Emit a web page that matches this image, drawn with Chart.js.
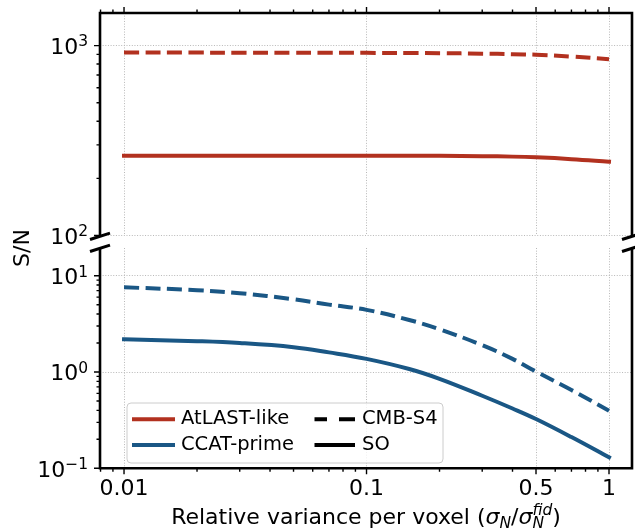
<!DOCTYPE html>
<html>
<head>
<meta charset="utf-8">
<title>S/N vs relative variance per voxel</title>
<script src="https://cdn.jsdelivr.net/npm/chart.js@4.4.1/dist/chart.umd.min.js"></script>
<style>
  html, body { margin: 0; padding: 0; background: #ffffff; }
  #figure { position: relative; width: 635px; height: 529px; overflow: hidden; }
  #figure canvas { position: absolute; left: 0; top: 0; }
</style>
</head>
<body>
<div id="figure">
  <canvas id="upper" width="635" height="529"></canvas>
  <canvas id="lower" width="635" height="529"></canvas>
</div>
<script>
// relative variance per voxel (x axis)
var variance = [0.01, 0.02, 0.03, 0.05, 0.07, 0.1, 0.15, 0.2, 0.3, 0.4, 0.5, 0.7, 1.0];
// AtLAST-like, upper panel
var atlastCmbS4 = [919, 919, 918.5, 918, 917.5, 916.4, 914.8, 913.1, 907.6, 902, 895.5, 876.2, 848];
var atlastSO = [263.4, 263.4, 263.4, 263.4, 263.3, 263.2, 263.0, 262.8, 261.8, 260.3, 258.0, 252.5, 244.8];
// CCAT-prime, lower panel
var ccatCmbS4 = [7.58, 7.07, 6.58, 5.69, 5.01, 4.42, 3.47, 2.78, 1.90, 1.37, 1.01, 0.65, 0.396];
var ccatSO = [2.19, 2.09, 2.0, 1.81, 1.60, 1.37, 1.075, 0.85, 0.567, 0.418, 0.325, 0.211, 0.13];

var xTicks = [0.01, 0.1, 0.5, 1];
var xTickLabels = ['0.01', '0.1', '0.5', '1'];
var upperDecades = [100, 1000];
var lowerDecades = [0.1, 1, 10];
var experiments = ['AtLAST-like', 'CCAT-prime'];
var surveys = ['CMB-S4', 'SO'];
var xTitle = 'Relative variance per voxel';
var yTitle = 'S/N';

var FONT = '"DejaVu Sans", sans-serif';
var RED = '#b2311f';
var BLUE = '#1a5785';
var GRID = '#b8b8b8';
var X_MIN = 0.00796, X_MAX = 1.244;
var PLOT_LEFT = 100, PLOT_RIGHT = 632;
var UPPER_TOP = 13, UPPER_BOTTOM = 235.5;
var LOWER_TOP = 248, LOWER_BOTTOM = 468.3;

Chart.defaults.font.family = FONT;
Chart.defaults.color = '#000';

function series(values) {
    "use strict";
    return values.map(function (v, i) {
        return {x: variance[i], y: v};
    });
}

function lineSet(label, values, color, dashed) {
    "use strict";
    return {
        label: label,
        data: series(values),
        borderColor: color,
        borderWidth: 4,
        borderDash: dashed ? [15, 6.5] : [],
        borderCapStyle: dashed ? 'butt' : 'square',
        pointRadius: 0,
        fill: false,
        tension: 0.4
    };
}

// every k * 10^n inside [min, max]
function logMarks(min, max, majors) {
    "use strict";
    var out = [];
    for (var e = Math.floor(Math.log10(min)); e <= Math.ceil(Math.log10(max)); e++) {
        for (var k = 1; k <= 9; k++) {
            var v = parseFloat((k * Math.pow(10, e)).toPrecision(6));
            if (v >= min * 0.999 && v <= max * 1.001) {
                out.push({value: v, major: majors.indexOf(v) !== -1});
            }
        }
    }
    return out;
}

function xScale(position, showLabels) {
    "use strict";
    return {
        type: 'logarithmic',
        position: position,
        min: X_MIN,
        max: X_MAX,
        afterBuildTicks: function (s) {
            s.ticks = xTicks.map(function (v) { return {value: v}; });
        },
        afterFit: function (s) {
            s.height = showLabels ? 529 - LOWER_BOTTOM : 0;
        },
        ticks: {
            display: showLabels,
            autoSkip: false,
            maxRotation: 0,
            padding: 8,
            font: {size: 22},
            callback: function (v, i) { return xTickLabels[i]; }
        },
        grid: {color: GRID, lineWidth: 1, drawTicks: false},
        border: {display: false, dash: [1, 1.65]}
    };
}

function yScale(min, max, decades) {
    "use strict";
    return {
        type: 'logarithmic',
        min: min,
        max: max,
        afterBuildTicks: function (s) {
            s.ticks = decades.map(function (v) { return {value: v}; });
        },
        afterFit: function (s) {
            s.width = PLOT_LEFT;
        },
        ticks: {display: false},
        grid: {color: GRID, lineWidth: 1, drawTicks: false},
        border: {display: false, dash: [1, 1.65]}
    };
}

// "10" with a raised exponent, right aligned at xRight
function drawPower(ctx, exp, xRight, y) {
    "use strict";
    var sup = exp < 0 ? '\u2212' + (-exp) : String(exp);
    ctx.textAlign = 'left';
    ctx.textBaseline = 'alphabetic';
    ctx.font = '15.5px ' + FONT;
    var ws = ctx.measureText(sup).width;
    ctx.fillText(sup, xRight - ws, y + 0.8);
    ctx.font = '22px ' + FONT;
    var wb = ctx.measureText('10').width;
    ctx.fillText('10', xRight - ws - wb, y + 8.3);
}

function drawXTitle(ctx, cx, baseline) {
    "use strict";
    var big = '22px ' + FONT, ibig = 'italic 22px ' + FONT, ismall = 'italic 15.5px ' + FONT;
    var runs = [
        {text: xTitle + ' (', font: big, dy: 0},
        {text: '\u03c3', font: ibig, dy: 0},
        {text: 'N', font: ismall, dy: 4},
        {text: '/', font: big, dy: 0},
        {text: '\u03c3', font: ibig, dy: 0},
        {text: 'N', font: ismall, dy: 4, keep: true},
        {text: 'fid', font: ismall, dy: -9},
        {text: ')', font: big, dy: 0}
    ];
    var x = 0, held = 0, starts = [];
    runs.forEach(function (r) {
        ctx.font = r.font;
        var w = ctx.measureText(r.text).width;
        starts.push(x);
        if (r.keep) {
            held = w;
        } else {
            x += Math.max(w, held);
            held = 0;
        }
    });
    var left = cx - x / 2;
    ctx.textAlign = 'left';
    ctx.textBaseline = 'alphabetic';
    runs.forEach(function (r, i) {
        ctx.font = r.font;
        ctx.fillText(r.text, left + starts[i], baseline + r.dy);
    });
}

function drawLegend(ctx) {
    "use strict";
    var bx = 127, by = 403, bw = 316, bh = 60, rr = 4;
    ctx.beginPath();
    ctx.moveTo(bx + rr, by);
    ctx.arcTo(bx + bw, by, bx + bw, by + bh, rr);
    ctx.arcTo(bx + bw, by + bh, bx, by + bh, rr);
    ctx.arcTo(bx, by + bh, bx, by, rr);
    ctx.arcTo(bx, by, bx + bw, by, rr);
    ctx.closePath();
    ctx.fillStyle = 'rgba(255,255,255,0.8)';
    ctx.fill();
    ctx.strokeStyle = '#cccccc';
    ctx.lineWidth = 1;
    ctx.setLineDash([]);
    ctx.stroke();

    var rows = [419.3, 445];
    var cols = [{x0: 132, x1: 175, tx: 181}, {x0: 314.5, x1: 355, tx: 362}];
    var entries = [
        {label: experiments[0], color: RED, dash: [], col: 0, row: 0},
        {label: experiments[1], color: BLUE, dash: [], col: 0, row: 1},
        {label: surveys[0], color: '#000', dash: [12.5, 12, 16, 12], col: 1, row: 0},
        {label: surveys[1], color: '#000', dash: [], col: 1, row: 1}
    ];
    ctx.font = '19.5px ' + FONT;
    ctx.textAlign = 'left';
    ctx.textBaseline = 'middle';
    entries.forEach(function (e) {
        var c = cols[e.col], y = rows[e.row];
        ctx.beginPath();
        ctx.setLineDash(e.dash);
        ctx.strokeStyle = e.color;
        ctx.lineWidth = 4;
        ctx.lineCap = 'butt';
        ctx.moveTo(c.x0, y);
        ctx.lineTo(c.x1, y);
        ctx.stroke();
        ctx.setLineDash([]);
        ctx.fillStyle = '#000';
        ctx.fillText(e.label, c.tx, y);
    });
}

function lowerExtras(chart) {
    "use strict";
    var ctx = chart.ctx, a = chart.chartArea;
    // axis break marks
    ctx.strokeStyle = '#000';
    ctx.lineWidth = 3;
    ctx.setLineDash([]);
    ctx.beginPath();
    [UPPER_BOTTOM + 0.8, LOWER_TOP + 0.3].forEach(function (y) {
        [PLOT_LEFT, PLOT_RIGHT].forEach(function (x) {
            ctx.moveTo(x - 10, y + 3.2);
            ctx.lineTo(x + 10, y - 3.2);
        });
    });
    ctx.stroke();

    // shared y title
    ctx.save();
    ctx.translate(28.5, 248);
    ctx.rotate(-Math.PI / 2);
    ctx.font = '22px ' + FONT;
    ctx.textAlign = 'center';
    ctx.textBaseline = 'alphabetic';
    ctx.fillStyle = '#000';
    ctx.fillText(yTitle, 0, 0);
    ctx.restore();

    ctx.fillStyle = '#000';
    drawXTitle(ctx, (a.left + a.right) / 2, 524);
    drawLegend(ctx);
}

function framePlugin(opts) {
    "use strict";
    return {
        id: 'frame',
        afterDraw: function (chart) {
            var ctx = chart.ctx, a = chart.chartArea;
            var xs = chart.scales.x, ys = chart.scales.y;
            ctx.save();
            ctx.strokeStyle = '#000';
            ctx.lineWidth = 1.4;
            ctx.beginPath();
            logMarks(ys.min, ys.max, opts.decades).forEach(function (m) {
                var y = ys.getPixelForValue(m.value);
                ctx.moveTo(a.left - (m.major ? 6 : 3.5), y);
                ctx.lineTo(a.left, y);
            });
            var edge = opts.top ? a.top : a.bottom;
            var dir = opts.top ? -1 : 1;
            logMarks(xs.min, xs.max, xTicks).forEach(function (m) {
                var x = xs.getPixelForValue(m.value);
                ctx.moveTo(x, edge);
                ctx.lineTo(x, edge + dir * (m.major ? 6 : 3.5));
            });
            ctx.stroke();

            // spines (the side facing the break stays open)
            ctx.lineWidth = 2.6;
            ctx.beginPath();
            if (opts.top) {
                ctx.moveTo(a.left, a.bottom);
                ctx.lineTo(a.left, a.top);
                ctx.lineTo(a.right, a.top);
                ctx.lineTo(a.right, a.bottom);
            } else {
                ctx.moveTo(a.left, a.top);
                ctx.lineTo(a.left, a.bottom);
                ctx.lineTo(a.right, a.bottom);
                ctx.lineTo(a.right, a.top);
            }
            ctx.stroke();

            ctx.fillStyle = '#000';
            opts.decades.forEach(function (v) {
                drawPower(ctx, Math.round(Math.log10(v)), a.left - 12, ys.getPixelForValue(v));
            });
            if (opts.extras) {
                opts.extras(chart);
            }
            ctx.restore();
        }
    };
}

var upperChart = new Chart(document.getElementById('upper'), {
    type: 'line',
    data: {
        datasets: [
            lineSet(experiments[0] + ' ' + surveys[0], atlastCmbS4, RED, true),
            lineSet(experiments[0] + ' ' + surveys[1], atlastSO, RED, false)
        ]
    },
    options: {
        responsive: false,
        animation: false,
        devicePixelRatio: 1,
        layout: {padding: {top: UPPER_TOP, bottom: 529 - UPPER_BOTTOM, left: 0, right: 635 - PLOT_RIGHT}},
        plugins: {legend: {display: false}, tooltip: {enabled: false}},
        scales: {
            x: xScale('top', false),
            y: yScale(100, 1486, upperDecades)
        }
    },
    plugins: [framePlugin({top: true, decades: upperDecades})]
});

var lowerChart = new Chart(document.getElementById('lower'), {
    type: 'line',
    data: {
        datasets: [
            lineSet(experiments[1] + ' ' + surveys[0], ccatCmbS4, BLUE, true),
            lineSet(experiments[1] + ' ' + surveys[1], ccatSO, BLUE, false)
        ]
    },
    options: {
        responsive: false,
        animation: false,
        devicePixelRatio: 1,
        layout: {padding: {top: LOWER_TOP, bottom: 0, left: 0, right: 635 - PLOT_RIGHT}},
        plugins: {legend: {display: false}, tooltip: {enabled: false}},
        scales: {
            x: xScale('bottom', true),
            y: yScale(0.1, 19.4, lowerDecades)
        }
    },
    plugins: [framePlugin({top: false, decades: lowerDecades, extras: lowerExtras})]
});
console.log('charts drawn', upperChart.chartArea, lowerChart.chartArea);
</script>
</body>
</html>
